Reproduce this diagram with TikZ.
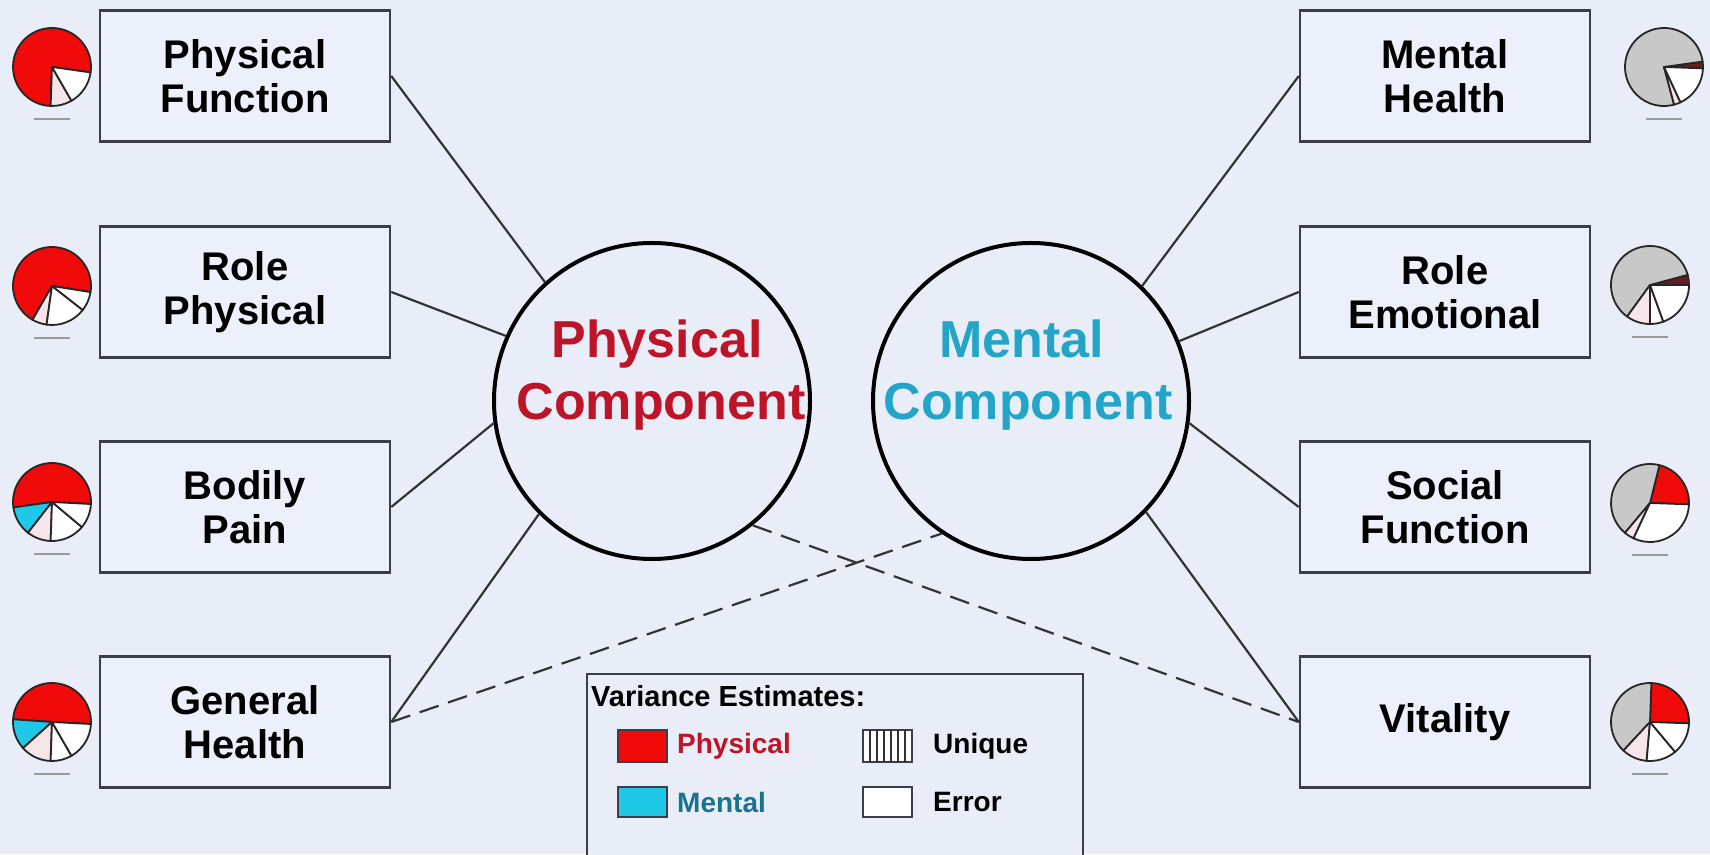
\documentclass[tikz,border=0pt]{standalone}
\usepackage{fontspec}
\setmainfont{Liberation Sans}
\usetikzlibrary{calc}
\definecolor{bgc}{RGB}{232,237,247}
\definecolor{boxfill}{RGB}{236,240,250}
\definecolor{boxline}{RGB}{60,60,75}
\definecolor{physc}{RGB}{190,20,40}
\definecolor{mentc}{RGB}{35,165,200}
\definecolor{piered}{RGB}{240,10,10}
\definecolor{piecyan}{RGB}{30,200,230}
\definecolor{piegray}{RGB}{200,200,200}
\definecolor{piedark}{RGB}{100,30,30}
\definecolor{pieuniq}{RGB}{245,228,232}
\newcommand\pslice[4]{\filldraw[#4, draw=black!85, line width=1.8pt, line join=round] (#1) -- ++(#2:39pt) arc[start angle=#2, end angle=#3, radius=39pt] -- cycle;}
\newcommand\plabel[1]{\draw[gray!80, line width=2.5pt] ($(#1)+(-18,-52)$) -- ($(#1)+(18,-52)$);}
\tikzset{
  box/.style={draw=boxline, line width=2.5pt, fill=boxfill, minimum width=290pt, minimum height=131pt, inner sep=0pt, align=center, font=\fontsize{40}{44}\selectfont\bfseries},
  comp/.style={circle, draw=black, line width=4pt, minimum size=316pt, inner sep=0pt},
  comptext/.style={anchor=base, inner sep=0pt, font=\fontsize{52}{62}\selectfont\bfseries},
  conn/.style={draw=black!80, line width=2.2pt},
  dconn/.style={draw=black!80, line width=2.2pt, dash pattern=on 20pt off 10pt},
  legtext/.style={anchor=west, inner sep=0pt, font=\fontsize{28}{30}\selectfont\bfseries},
  legbox/.style={draw=boxline, line width=2pt}
}
\begin{document}
\begin{tikzpicture}[x=1pt,y=1pt]
\fill[bgc] (0,0) rectangle (1710,854);
\useasboundingbox (0,0) rectangle (1710,854);

% boxes
\node[box] (pf) at (245,778) {Physical\\Function};
\node[box] (rp) at (245,562) {Role\\Physical};
\node[box] (bp) at (245,347) {Bodily\\Pain};
\node[box] (gh) at (245,132) {General\\Health};
\node[box] (mh) at (1445,778) {Mental\\Health};
\node[box] (re) at (1445,562) {Role\\Emotional};
\node[box] (sf) at (1445,347) {Social\\Function};
\node[box] (vt) at (1445,132) {Vitality};

% circles
\node[comp] (phys) at (652,453) {};
\node[comp] (ment) at (1031,453) {};
\node[comptext, text=physc] (phys1) at (657,496) {Physical};
\node[comptext, text=physc] (phys2) at (661,434) {Component};
\node[comptext, text=mentc] (ment1) at (1022,496) {Mental};
\node[comptext, text=mentc] (ment2) at (1028,434) {Component};

% connectors
\draw[conn] (pf.east) -- (phys.132);
\draw[conn] (rp.east) -- (phys.156);
\draw[conn] (bp.east) -- (phys.188);
\draw[conn] (gh.east) -- (phys.225);
\draw[conn] (mh.west) -- (ment.46);
\draw[conn] (re.west) -- (ment.22);
\draw[conn] (sf.west) -- (ment.-8);
\draw[conn] (vt.west) -- (ment.-44);
\draw[dconn] (gh.east) -- (ment.236);
\draw[dconn] (phys.309) -- (vt.west);

% pies
\coordinate (p1) at (52,787);
\coordinate (p2) at (52,568);
\coordinate (p3) at (52,352);
\coordinate (p4) at (52,132);
\coordinate (p5) at (1664,787);
\coordinate (p6) at (1650,569);
\coordinate (p7) at (1650,351);
\coordinate (p8) at (1650,132);

\pslice{p1}{-8}{268}{fill=piered}
\pslice{p1}{268}{300}{fill=pieuniq}
\pslice{p1}{300}{352}{fill=white}

\pslice{p2}{-9}{240}{fill=piered}
\pslice{p2}{240}{262}{fill=pieuniq}
\pslice{p2}{262}{322}{fill=white}
\pslice{p2}{322}{351}{fill=white}

\pslice{p3}{-3}{188}{fill=piered}
\pslice{p3}{188}{232}{fill=piecyan}
\pslice{p3}{232}{268}{fill=pieuniq}
\pslice{p3}{268}{320}{fill=white}
\pslice{p3}{320}{357}{fill=white}

\pslice{p4}{-3}{176}{fill=piered}
\pslice{p4}{176}{222}{fill=piecyan}
\pslice{p4}{222}{268}{fill=pieuniq}
\pslice{p4}{268}{300}{fill=white}
\pslice{p4}{300}{357}{fill=white}

\pslice{p5}{-2}{8}{fill=piedark}
\pslice{p5}{8}{285}{fill=piegray}
\pslice{p5}{285}{295}{fill=pieuniq}
\pslice{p5}{295}{358}{fill=white}

\pslice{p6}{0}{15}{fill=piedark}
\pslice{p6}{15}{234}{fill=piegray}
\pslice{p6}{234}{270}{fill=pieuniq}
\pslice{p6}{270}{290}{fill=white}
\pslice{p6}{290}{360}{fill=white}

\pslice{p7}{-2}{76}{fill=piered}
\pslice{p7}{76}{230}{fill=piegray}
\pslice{p7}{230}{245}{fill=pieuniq}
\pslice{p7}{245}{358}{fill=white}

\pslice{p8}{-2}{88}{fill=piered}
\pslice{p8}{88}{227}{fill=piegray}
\pslice{p8}{227}{265}{fill=pieuniq}
\pslice{p8}{265}{310}{fill=white}
\pslice{p8}{310}{358}{fill=white}

\plabel{p1}\plabel{p2}\plabel{p3}\plabel{p4}
\plabel{p5}\plabel{p6}\plabel{p7}\plabel{p8}

% legend
\draw[legbox, fill=bgc] (587,180) rectangle (1083,-10);
\node[anchor=base west, inner sep=0pt, font=\fontsize{29}{30}\selectfont\bfseries] (legt) at (591,147) {Variance Estimates:};
\draw[legbox, fill=piered] (618,92) rectangle (667,124);
\node[legtext, text=physc] (lphys) at (677,108) {Physical};
\draw[legbox, fill=piecyan] (618,37) rectangle (667,67);
\node[legtext, text=mentc!70!black] (lment) at (677,52) {Mental};
\draw[legbox, fill=white] (863,92) rectangle (912,124);
\foreach \xx in {870,877,884,891,898,905} \draw[black!80, line width=1.5pt] (\xx,92) -- (\xx,124);
\node[legtext] (luniq) at (933,108) {Unique};
\draw[legbox, fill=white] (863,37) rectangle (912,67);
\node[legtext] (lerr) at (933,52) {Error};
\end{tikzpicture}
\end{document}
